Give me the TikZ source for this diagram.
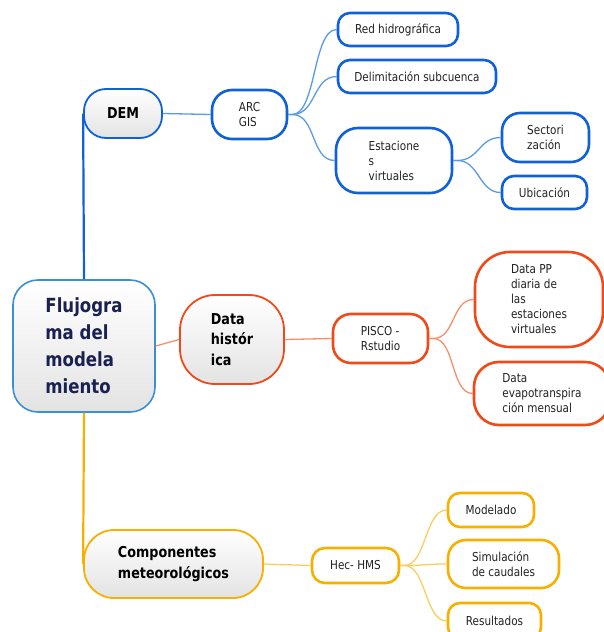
\documentclass[tikz,border=0pt]{standalone}
\usepackage{fontspec}
\setmainfont{DejaVu Sans}[FakeStretch=0.85]
\definecolor{cblue}{HTML}{1060D8}
\definecolor{cblueL}{HTML}{5A9BE8}
\definecolor{ccen}{HTML}{3A8FD6}
\definecolor{cred}{HTML}{F04A1A}
\definecolor{credL}{HTML}{F5906A}
\definecolor{cyel}{HTML}{F7B000}
\definecolor{cyelL}{HTML}{F9CF60}
\definecolor{ctext}{HTML}{222222}
\definecolor{cnavy}{HTML}{1A2050}
\tikzset{
  leaf/.style={draw, fill=white, align=left, inner sep=0pt, text=ctext,
    font=\fontsize{12.3}{15}\selectfont, line width=2.6pt},
  topic/.style={draw, align=left, inner sep=0pt, text=black,
    top color=white, bottom color=gray!22, line width=1.8pt},
  conn/.style={line width=1.3pt},
  trunk/.style={line width=2.2pt},
}
\begin{document}
\begin{tikzpicture}[x=1pt,y=-1pt]
\clip (0,0) rectangle (604,632);
\fill[white] (0,0) rectangle (604,632);

% central
\node[topic, draw=ccen, line width=1.6pt, rounded corners=25pt, minimum width=142pt, minimum height=132pt,
  text=cnavy, font=\bfseries\fontsize{19.5}{27}\selectfont] (cen) at (84,346)
  {Flujogra\\ma del\\modela\\miento};

% DEM branch
\node[topic, draw=cblue, rounded corners=22pt, minimum width=78pt, minimum height=49pt,
  font=\bfseries\fontsize{15}{18}\selectfont] (dem) at (123,113.5) {DEM};
\node[leaf, draw=cblue, rounded corners=20pt, minimum width=75pt, minimum height=49pt] (arc) at (249.5,114.5) {ARC\\GIS};
\node[leaf, draw=cblue, rounded corners=12pt, minimum width=120pt, minimum height=33pt] (red) at (398,29.5) {Red hidrográfica};
\node[leaf, draw=cblue, rounded corners=12pt, minimum width=158pt, minimum height=33pt] (del) at (417,76.5) {Delimitación subcuenca};
\node[leaf, draw=cblue, rounded corners=22pt, minimum width=116pt, minimum height=65pt] (est) at (394,160.5) {Estacione\\s\\virtuales};
\node[leaf, draw=cblue, rounded corners=18pt, minimum width=87pt, minimum height=49pt] (sec) at (545.5,137.5) {Sectori\\zación};
\node[leaf, draw=cblue, rounded corners=12pt, minimum width=85pt, minimum height=33pt] (ubi) at (544.5,192.5) {Ubicación};

% Data historica branch
\node[topic, draw=cred, rounded corners=35pt, minimum width=104pt, minimum height=89pt,
  font=\bfseries\fontsize{15}{20.5}\selectfont] (hist) at (232,339.5) {Data\\histór\\ica};
\node[leaf, draw=cred, rounded corners=18pt, minimum width=95pt, minimum height=49pt] (pis) at (380.5,338.5) {PISCO -\\Rstudio};
\node[leaf, draw=cred, rounded corners=35pt, minimum width=128pt, minimum height=95pt] (pp) at (539,299.5) {Data PP\\diaria de\\las\\estaciones\\virtuales};
\node[leaf, draw=cred, rounded corners=25pt, minimum width=136pt, minimum height=63pt] (eva) at (542,393.5) {Data\\evapotranspira\\ción mensual};

% Componentes branch
\node[topic, draw=cyel, rounded corners=30pt, minimum width=179pt, minimum height=68pt,
  font=\bfseries\fontsize{15}{21}\selectfont] (com) at (173.5,564) {Componentes\\meteorológicos};
\node[leaf, draw=cyel, rounded corners=13pt, minimum width=87pt, minimum height=35pt] (hec) at (355.5,565.5) {Hec- HMS};
\node[leaf, draw=cyel, rounded corners=12pt, minimum width=86pt, minimum height=34pt] (mod) at (491,510) {Modelado};
\node[leaf, draw=cyel, rounded corners=18pt, minimum width=111pt, minimum height=48pt] (sim) at (503.5,564) {Simulación\\de caudales};
\node[leaf, draw=cyel, rounded corners=12pt, minimum width=93pt, minimum height=36pt] (res) at (494.5,621) {Resultados};

% trunks
\draw[trunk, cblue] (cen.north) -- (dem.west);
\draw[trunk, cyel] (cen.south) -- (com.west);
\draw[conn, credL] (cen.east) -- (hist.west);

% connectors
\draw[conn, cblueL] (dem.east) -- (arc.west);
\foreach \t in {red,del,est}
  \draw[conn, cblueL] (arc.east) -- ++(4,0) .. controls +(24,0) and +(-24,0) .. (\t.west);
\foreach \t in {sec,ubi}
  \draw[conn, cblueL] (est.east) -- ++(4,0) .. controls +(22,0) and +(-22,0) .. (\t.west);
\draw[conn, credL] (hist.east) -- (pis.west);
\foreach \t in {pp,eva}
  \draw[conn, credL] (pis.east) -- ++(4,0) .. controls +(22,0) and +(-22,0) .. (\t.west);
\draw[conn, cyelL] (com.east) -- (hec.west);
\foreach \t in {mod,sim,res}
  \draw[conn, cyelL] (hec.east) -- ++(4,0) .. controls +(22,0) and +(-22,0) .. (\t.west);
\end{tikzpicture}
\end{document}
